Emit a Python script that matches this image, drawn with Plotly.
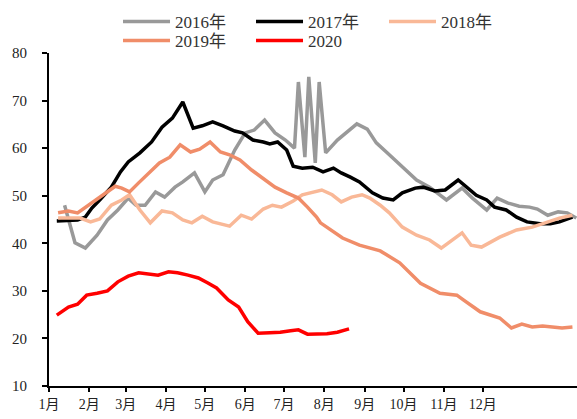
import plotly.graph_objects as go

# day of year (0 = Jan 1) and values
days_2016 = [12, 20, 28, 37, 45, 53, 61, 67, 74, 82, 89, 97, 103, 112, 120, 126, 134, 143,
             151, 158, 166, 174, 182, 189, 192, 197, 200, 205, 208, 213, 222, 229, 237,
             245, 252, 262, 272, 283, 293, 306, 318, 326, 337, 345, 353, 362, 370, 376,
             384, 392, 399, 406]
vals_2016 = [48.0, 40.1, 39.0, 41.7, 44.9, 47.0, 49.5, 48.0, 48.0, 50.8, 49.7, 51.8, 52.9,
             54.8, 50.8, 53.3, 54.4, 59.6, 63.2, 63.8, 65.9, 63.2, 61.7, 60.0, 73.9, 58.1,
             75.0, 56.9, 73.9, 59.0, 61.7, 63.2, 65.1, 64.0, 61.1, 58.6, 56.0, 53.3, 51.8,
             49.1, 51.6, 49.5, 47.0, 49.5, 48.5, 47.8, 47.6, 47.2, 45.9, 46.6, 46.4, 45.3]

days_2017 = [6, 22, 28, 33, 39, 48, 55, 61, 70, 79, 87, 95, 103, 111, 118, 126, 134, 143,
             149, 157, 165, 170, 176, 183, 188, 195, 203, 211, 219, 225, 232, 239, 249,
             257, 265, 272, 282, 288, 297, 305, 315, 322, 329, 337, 343, 352, 360, 368,
             378, 386, 393, 403]
vals_2017 = [44.7, 44.9, 45.5, 47.4, 49.1, 51.8, 55.0, 57.1, 59.0, 61.3, 64.4, 66.3, 69.7,
             64.2, 64.7, 65.5, 64.7, 63.6, 63.2, 61.7, 61.3, 60.9, 61.3, 59.6, 56.2, 55.8,
             56.0, 55.0, 55.8, 54.8, 53.9, 52.9, 50.6, 49.5, 49.1, 50.6, 51.6, 51.8, 51.0,
             51.2, 53.3, 51.6, 50.1, 49.1, 47.6, 47.0, 45.5, 44.5, 44.1, 44.1, 44.5, 45.5]

days_2018 = [7, 24, 32, 39, 48, 56, 62, 70, 78, 87, 95, 103, 110, 118, 126, 139, 148, 156,
             165, 172, 179, 188, 195, 202, 210, 218, 225, 233, 241, 247, 255, 262, 272,
             283, 293, 302, 318, 325, 333, 347, 360, 372, 383, 393, 403]
vals_2018 = [45.3, 45.3, 44.5, 45.1, 48.0, 49.1, 50.2, 47.0, 44.3, 46.8, 46.4, 44.9, 44.3,
             45.7, 44.5, 43.6, 45.9, 45.1, 47.2, 48.0, 47.6, 48.9, 50.2, 50.6, 51.2, 50.2,
             48.7, 49.7, 50.2, 49.5, 48.0, 46.4, 43.4, 41.7, 40.7, 39.0, 42.2, 39.6, 39.2,
             41.3, 42.8, 43.4, 44.3, 45.3, 45.9]

days_2019 = [7, 15, 22, 30, 38, 45, 51, 56, 62, 69, 76, 85, 93, 101, 109, 116, 124, 132,
             139, 147, 156, 165, 174, 183, 192, 199, 206, 209, 226, 239, 255, 270, 286,
             301, 314, 319, 332, 347, 356, 364, 372, 380, 395, 403]
vals_2019 = [46.4, 46.8, 46.4, 48.0, 49.5, 51.0, 52.0, 51.6, 50.8, 52.7, 54.6, 56.9, 58.1,
             60.7, 59.2, 59.8, 61.3, 59.2, 58.6, 57.5, 55.4, 53.7, 51.8, 50.6, 49.5, 47.6,
             45.5, 44.3, 41.1, 39.6, 38.4, 35.9, 31.6, 29.5, 29.1, 28.1, 25.6, 24.3, 22.2,
             23.0, 22.4, 22.6, 22.2, 22.4]

days_2020 = [6, 15, 22, 29, 37, 45, 53, 61, 69, 76, 84, 92, 99, 107, 115, 122, 129, 138,
             146, 153, 161, 170, 178, 186, 192, 199, 206, 214, 222, 231]
vals_2020 = [24.9, 26.6, 27.2, 29.1, 29.5, 30.0, 31.9, 33.1, 33.8, 33.5, 33.3, 34.0, 33.8,
             33.3, 32.7, 31.7, 30.6, 28.1, 26.6, 23.5, 21.1, 21.2, 21.3, 21.6, 21.8, 20.9,
             20.9, 21.0, 21.3, 22.0]

month_starts = [0, 31, 59, 90, 120, 151, 181, 212, 243, 273, 304, 334]
month_labels = ["1月", "2月", "3月", "4月", "5月", "6月", "7月", "8月", "9月", "10月", "11月", "12月"]

# name, x, y, colour, legend row
series = [
    ("2016年", days_2016, vals_2016, "#999999", "legend"),
    ("2017年", days_2017, vals_2017, "#000000", "legend"),
    ("2018年", days_2018, vals_2018, "#F9B897", "legend"),
    ("2019年", days_2019, vals_2019, "#F08D69", "legend2"),
    ("2020", days_2020, vals_2020, "#FF0000", "legend2"),
]

fig = go.Figure()
for name, x, y, color, leg in series:
    fig.add_trace(go.Scatter(x=x, y=y, name=name, mode="lines", legend=leg,
                             line=dict(color=color, width=3.5)))

font = "Liberation Serif, Times New Roman, Noto Sans CJK SC, serif"
leg_style = dict(orientation="h", xanchor="left", yanchor="top", x=0.1307,
                 font=dict(size=17, color="#333"), itemwidth=47, entrywidth=71,
                 traceorder="normal", bgcolor="rgba(0,0,0,0)")
fig.update_layout(
    width=577, height=419,
    margin=dict(l=49, r=0, t=53, b=33),
    paper_bgcolor="white", plot_bgcolor="white",
    font=dict(family=font, size=14, color="#222"),
    showlegend=True,
    legend=dict(leg_style, y=1.147),
    legend2=dict(leg_style, y=1.090),
    xaxis=dict(range=[0, 406.5], tickvals=month_starts, ticktext=month_labels,
               showgrid=False, zeroline=False, showline=True, linecolor="black",
               linewidth=2, ticks="outside", ticklen=4, tickwidth=1.5, tickcolor="black",
               automargin=False),
    yaxis=dict(range=[10, 80], dtick=10, showgrid=False, zeroline=False,
               showline=True, linecolor="black", linewidth=2, ticks="outside",
               ticklen=5, tickwidth=1.5, tickcolor="black", ticklabelstandoff=12,
               tickfont=dict(size=15), automargin=False),
)

# page has a default 8px body margin; drop it so the figure sits at the window corner
fig.write_html("out.html", config={"displayModeBar": False},
               post_script="document.body.style.margin = '0';")
